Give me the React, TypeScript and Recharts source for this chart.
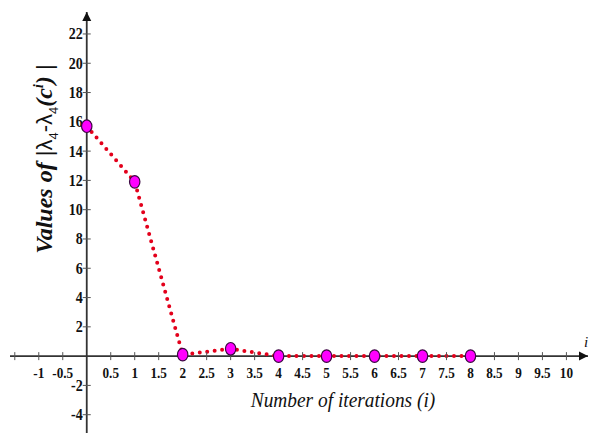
import {
  ComposedChart,
  Line,
  XAxis,
  YAxis,
  ReferenceLine,
  ReferenceDot
} from "recharts"

const iterations = [0, 1, 2, 3, 4, 5, 6, 7, 8]
const values = [15.7, 11.9, 0.1, 0.5, 0, 0, 0, 0, 0]

const xTicks = [-1.5, -1, -0.5, 0.5, 1, 1.5, 2, 2.5, 3, 3.5, 4, 4.5, 5, 5.5, 6, 6.5, 7, 7.5, 8, 8.5, 9, 9.5, 10]
const xTickLabels = ["", "-1", "-0.5", "0.5", "1", "1.5", "2", "2.5", "3", "3.5", "4", "4.5", "5", "5.5", "6", "6.5", "7", "7.5", "8", "8.5", "9", "9.5", "10"]
const yTicks = [-4, -2, 2, 4, 6, 8, 10, 12, 14, 16, 18, 20, 22]

const X_DOMAIN = [-1.6, 10.45]
const Y_DOMAIN = [-5.25, 23.5]

const data = iterations.map((x, i) => ({ x, y: values[i] }))

const SERIF = "Liberation Serif, Times New Roman, serif"

const XTick = (text: string) => (props: any) => {
  const { cx, cy } = props
  return (
    <g>
      <line x1={cx} y1={cy - 4} x2={cx} y2={cy + 4} stroke="#555" strokeWidth={1} />
      <text
        x={0}
        y={0}
        textAnchor="middle"
        style={{ fontFamily: SERIF, fontWeight: 700, fontSize: 15 }}
        fill="#111"
        transform={`translate(${cx},${cy + 22}) scale(0.88,1)`}
      >
        {text}
      </text>
    </g>
  )
}

const YTick = (text: string) => (props: any) => {
  const { cx, cy } = props
  return (
    <g>
      <line x1={cx - 4} y1={cy} x2={cx + 4} y2={cy} stroke="#555" strokeWidth={1} />
      <text
        x={0}
        y={0}
        textAnchor="end"
        style={{ fontFamily: SERIF, fontWeight: 700, fontSize: 16 }}
        fill="#111"
        transform={`translate(${cx - 4},${cy + 5.5}) scale(0.88,1)`}
      >
        {text}
      </text>
    </g>
  )
}

const Marker = (props: any) => {
  const { cx, cy } = props
  if (cx == null || cy == null) return null
  return <ellipse cx={cx} cy={cy} rx={5.2} ry={6.3} fill="#ff00ff" stroke="#3a0a40" strokeWidth={1.2} />
}

const UpArrow = (props: any) => {
  const { cx, cy } = props
  return <path d={`M${cx},${cy} L${cx - 4.5},${cy + 9} L${cx + 4.5},${cy + 9} Z`} fill="#111" />
}

const RightArrow = (props: any) => {
  const { cx, cy } = props
  return <path d={`M${cx},${cy} L${cx - 9},${cy - 4.5} L${cx - 9},${cy + 4.5} Z`} fill="#111" />
}

export default function App() {
  document.body.style.margin = "0"
  return (
    <div style={{ position: "relative", width: 592, height: 433, background: "#fff" }}>
      <ComposedChart
        width={592}
        height={433}
        data={data}
        margin={{ top: 12, right: 4, bottom: 0, left: 10 }}
      >
        <XAxis type="number" dataKey="x" domain={X_DOMAIN} allowDataOverflow hide />
        <YAxis type="number" domain={Y_DOMAIN} allowDataOverflow hide />

        <ReferenceLine x={0} stroke="#333" strokeWidth={1.8} />
        <ReferenceLine y={0} stroke="#333" strokeWidth={1.8} />

        {xTicks.map((t, i) => (
          <ReferenceDot key={`xt-${t}`} x={t} y={0} r={0} shape={XTick(xTickLabels[i])} ifOverflow="visible" />
        ))}
        {yTicks.map((t) => (
          <ReferenceDot key={`yt-${t}`} x={0} y={t} r={0} shape={YTick(String(t))} ifOverflow="visible" />
        ))}

        <ReferenceDot x={0} y={23.5} r={0} shape={UpArrow} ifOverflow="visible" />
        <ReferenceDot x={10.45} y={0} r={0} shape={RightArrow} ifOverflow="visible" />

        <Line
          dataKey="y"
          type="linear"
          stroke="#e3001b"
          strokeWidth={4}
          strokeDasharray="0 7.5"
          strokeLinecap="round"
          dot={<Marker />}
          activeDot={false}
          isAnimationActive={false}
        />
      </ComposedChart>

      <div
        style={{
          position: "absolute",
          left: 46,
          top: 159,
          transform: "translate(-50%, -50%) rotate(-90deg)",
          whiteSpace: "nowrap",
          fontFamily: SERIF,
          fontSize: 24,
          color: "#111"
        }}
      >
        <span style={{ fontWeight: 700, fontStyle: "italic" }}>Values of</span>
        <span style={{ fontFamily: "Liberation Sans, Arial, sans-serif", fontSize: 22 }}>
          {"  |λ"}
          <sub style={{ fontSize: 13 }}>4</sub>
          {"-λ"}
          <sub style={{ fontSize: 13 }}>4</sub>
        </span>
        <span style={{ fontWeight: 700, fontStyle: "italic" }}>
          (c<sup style={{ fontSize: 14 }}>i</sup>)
        </span>
        <span style={{ fontFamily: "Liberation Sans, Arial, sans-serif", fontSize: 22 }}>{" |"}</span>
      </div>

      <div
        style={{
          position: "absolute",
          left: 343,
          top: 400,
          transform: "translate(-50%, -50%) scale(0.88, 1)",
          whiteSpace: "nowrap",
          fontFamily: SERIF,
          fontStyle: "italic",
          fontSize: 22,
          color: "#111"
        }}
      >
        Number of iterations (<i>i</i>)
      </div>

      <div
        style={{
          position: "absolute",
          left: 584,
          top: 334,
          fontFamily: SERIF,
          fontStyle: "italic",
          fontSize: 15,
          color: "#111"
        }}
      >
        i
      </div>
    </div>
  )
}
